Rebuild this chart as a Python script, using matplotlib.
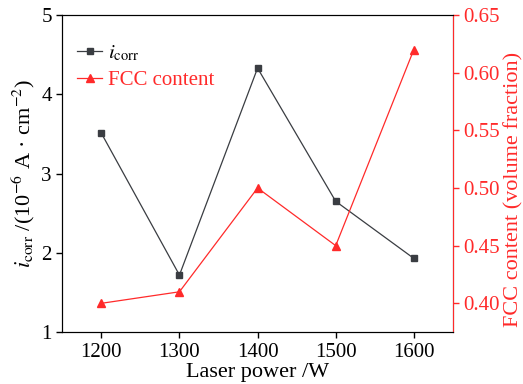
import matplotlib.pyplot as plt

plt.rcParams['font.family'] = ['Liberation Serif', 'DejaVu Serif']
plt.rcParams['mathtext.fontset'] = 'stix'

laser_power = [1200, 1300, 1400, 1500, 1600]
i_corr = [3.51, 1.72, 4.33, 2.65, 1.93]
fcc_content = [0.40, 0.41, 0.50, 0.45, 0.62]

dark = '#3a3d42'
red = '#ff2a2a'

fig, ax = plt.subplots(figsize=(5.23, 3.84), dpi=100)
fig.subplots_adjust(left=0.119, right=0.866, top=0.961, bottom=0.135)

l1, = ax.plot(laser_power, i_corr, color=dark, lw=0.9, marker='s', ms=5,
              label=r'$i_{\rm corr}$')
ax.set_xlim(1150, 1650)
ax.set_ylim(1, 5)
ax.set_xticks(laser_power)
ax.set_yticks([1, 2, 3, 4, 5])
ax.set_xlabel('Laser power /W', fontsize=16, labelpad=1)
ax.set_ylabel(r'$i_{\rm corr}$ /(10$^{-6}$ A · cm$^{-2}$)', fontsize=16, labelpad=3)
ax.tick_params(axis='both', labelsize=15, direction='out', length=4, width=1)

ax2 = ax.twinx()
l2, = ax2.plot(laser_power, fcc_content, color=red, lw=0.9, marker='^', ms=6,
               label='FCC content')
ax2.set_ylim(0.375, 0.65)
ax2.set_yticks([0.40, 0.45, 0.50, 0.55, 0.60, 0.65])
ax2.set_yticklabels(['0.40', '0.45', '0.50', '0.55', '0.60', '0.65'])
ax2.set_ylabel('FCC content (volume fraction)', fontsize=16, color=red)
ax2.yaxis.set_label_coords(1.132, 0.45)
ax2.tick_params(axis='y', labelsize=15, colors=red, direction='out', length=4, width=1)
ax2.spines['right'].set_color(red)

leg = ax.legend(handles=[l1, l2], loc='upper left', frameon=False, fontsize=15,
                handlelength=1.2, handletextpad=0.3, labelspacing=0.35,
                bbox_to_anchor=(-0.01, 0.97))
leg.get_texts()[0].set_color('black')
leg.get_texts()[1].set_color(red)

fig.savefig('out.png', dpi=100)
